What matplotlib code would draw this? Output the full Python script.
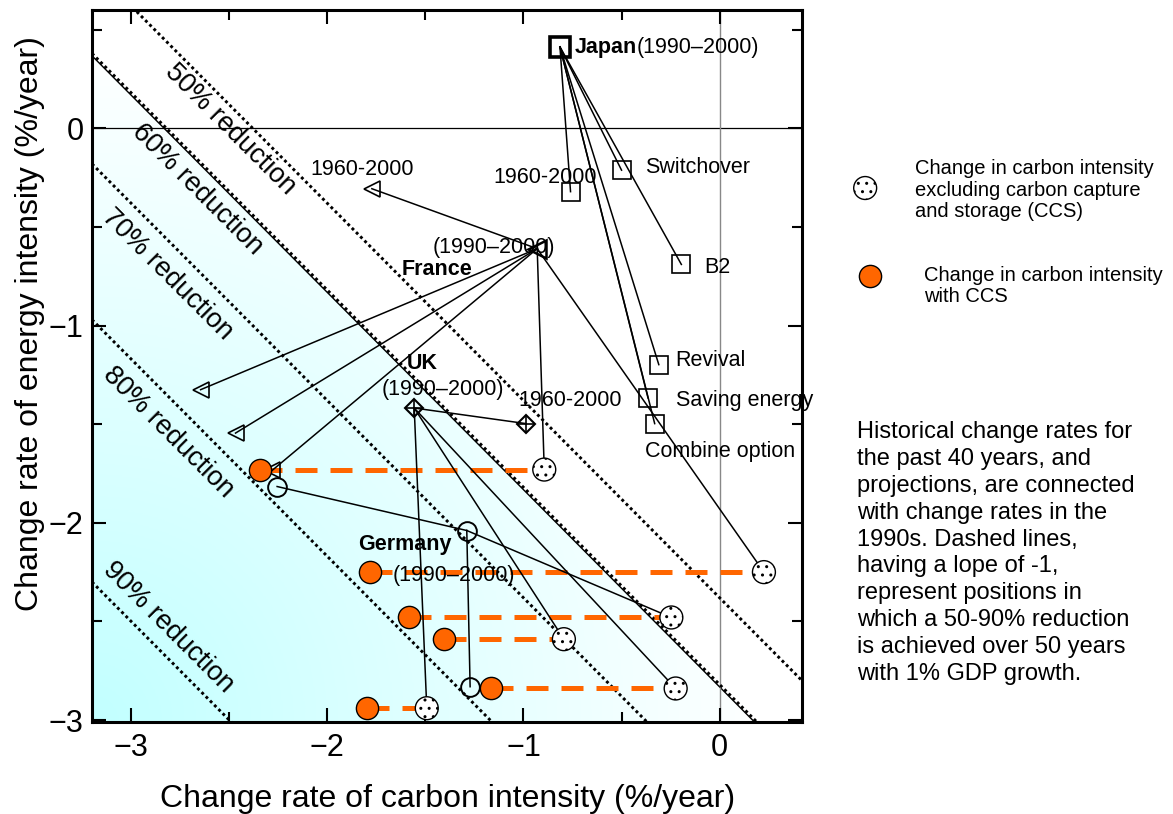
import numpy as np
import matplotlib
matplotlib.use('Agg')
import matplotlib.pyplot as plt
from matplotlib.patches import Polygon
from matplotlib.colors import LinearSegmentedColormap
from matplotlib.ticker import MultipleLocator

plt.rcParams['font.family'] = ['Liberation Sans', 'DejaVu Sans']

# reduction lines: carbon rate + energy rate = const (50 years, 1% GDP growth)
reductions = ['50% reduction', '60% reduction', '70% reduction', '80% reduction', '90% reduction']
line_sums = [-2.38, -2.82, -3.38, -4.17, -5.5]
label_x = [-2.494, -2.662, -2.814, -2.809, -2.809]
label_y = [-0.005, -0.31, -0.741, -1.543, -2.528]

# Japan 1990-2000 and its targets (squares)
japan = (-0.814, 0.413)
japan_names = ['1960-2000', 'Switchover', 'B2', 'Revival', 'Saving energy', 'Combine option']
japan_x = [-0.760, -0.500, -0.195, -0.310, -0.365, -0.331]
japan_y = [-0.321, -0.212, -0.690, -1.198, -1.367, -1.497]

# France 1990-2000 and its targets (triangles)
france = (-0.93, -0.61)
france_x = [-1.773, -2.646, -2.468, -2.281]
france_y = [-0.306, -1.325, -1.545, -1.734]

# UK
uk = (-1.557, -1.418)
uk_1960 = (-0.987, -1.497)

# Germany
germany = (-1.289, -2.039)
germany_x = [-2.256, -1.272]
germany_y = [-1.816, -2.831]

# scenario pairs: without CCS (dotted) and with CCS (orange)
noccs_x = [-0.894, 0.226, -0.246, -0.794, -0.224, -1.493]
ccs_x = [-2.341, -1.781, -1.586, -1.405, -1.167, -1.798]
pair_y = [-1.73, -2.25, -2.48, -2.59, -2.84, -2.94]
pair_owner = ['France', 'France', 'Germany', 'UK', 'UK', 'UK']

xlim = (-3.2, 0.42)
ylim = (-3.01, 0.6)
orange = '#ff6600'

fig = plt.figure(figsize=(11.73, 8.14), dpi=100)
ax = fig.add_axes([0.0784, 0.113, 0.6053, 0.8747])
ax.set_xlim(xlim)
ax.set_ylim(ylim)

# cyan gradient (radial from lower-left corner) below the 60% line
edge = line_sums[1] - 0.012
xx, yy = np.meshgrid(np.linspace(xlim[0], xlim[1], 500), np.linspace(ylim[0], ylim[1], 500))
r = np.hypot(xx - xlim[0], yy - ylim[0])
t = np.clip(r / 3.45, 0, 1)
cmap = LinearSegmentedColormap.from_list('cy', [(0.76, 1, 1), (1, 1, 1)])
im = ax.imshow(t, extent=[xlim[0], xlim[1], ylim[0], ylim[1]], origin='lower',
               cmap=cmap, vmin=0, vmax=1, aspect='auto', zorder=0)
poly = Polygon([[xlim[0], edge - xlim[0]], [xlim[0], ylim[0]],
                [edge - ylim[0], ylim[0]]], closed=True, transform=ax.transData)
im.set_clip_path(poly)
xs = np.array(xlim)
ax.plot(xs, edge - xs, color='black', lw=1.0, zorder=1)

ax.axhline(0, color='black', lw=0.9, zorder=1)
ax.axvline(0, color='#888888', lw=1.0, zorder=1)

for s, lab, lx, ly in zip(line_sums, reductions, label_x, label_y):
    ax.plot(xs, s - xs, color='black', lw=2.1, ls=(0, (1, 1.05)), zorder=2)
    ax.text(lx, ly, lab, rotation=-45, rotation_mode='anchor', ha='center', va='center',
            fontsize=19.5, zorder=3)

lk = dict(color='black', lw=1.1, zorder=4)
for x, y in zip(japan_x, japan_y):
    ax.plot([japan[0], x], [japan[1], y], **lk)
for x, y in zip(france_x, france_y):
    ax.plot([france[0], x], [france[1], y], **lk)
ax.plot([uk[0], uk_1960[0]], [uk[1], uk_1960[1]], **lk)
for x, y in zip(germany_x, germany_y):
    ax.plot([germany[0], x], [germany[1], y], **lk)
owners = {'France': france, 'UK': uk, 'Germany': germany}
for o, x, y in zip(pair_owner, noccs_x, pair_y):
    ax.plot([owners[o][0], x], [owners[o][1], y], **lk)

# dashed CCS shifts
for x0, x1, y in zip(ccs_x, noccs_x, pair_y):
    ax.plot([x0, x1], [y, y], color=orange, lw=3.6, dashes=(4.4, 2.6), zorder=3)

# markers
ax.plot(japan_x, japan_y, 's', ms=13.5, mfc='none', mec='black', mew=1.2, zorder=5)
ax.plot(*japan, 's', ms=14, mfc='none', mec='black', mew=2.6, zorder=5)
ax.plot(france_x, france_y, '<', ms=12, mfc='none', mec='black', mew=1.2, zorder=5)
ax.plot(*france, '<', ms=13, mfc='none', mec='black', mew=1.8, zorder=5)
ax.plot([uk[0], uk_1960[0]], [uk[1], uk_1960[1]], 'D', ms=9, mfc='none', mec='black', mew=1.5, zorder=5)
ax.plot([uk[0], uk_1960[0]], [uk[1], uk_1960[1]], '+', ms=12.5, mec='black', mew=1.2, zorder=5)
ax.plot(germany_x + [germany[0]], germany_y + [germany[1]], 'o', ms=13.5, mfc='none',
        mec='black', mew=1.4, zorder=5)
ax.scatter(noccs_x, pair_y, s=16.5 ** 2, facecolor='white', edgecolor='black', lw=1.0,
           hatch='..', zorder=6)
ax.scatter(ccs_x, pair_y, s=16 ** 2, facecolor=orange, edgecolor='black', lw=1.0, zorder=6)

fs = 15.5
tj = ax.text(-0.738, 0.411, 'Japan', fontsize=fs, fontweight='bold', ha='left', va='center', zorder=7)
ax.annotate('(1990–2000)', xy=(1, 0.5), xycoords=tj, fontsize=fs, ha='left', va='center')
ax.text(-0.891, -0.249, '1960-2000', fontsize=fs, ha='center', va='center', zorder=7)
name_x = [-0.382, -0.076, -0.224, -0.224, -0.382]
name_y = [-0.198, -0.706, -1.178, -1.381, -1.640]
for n, x, y in zip(japan_names[1:], name_x, name_y):
    ax.text(x, y, n, fontsize=fs, ha='left', va='center', zorder=7)
ax.text(-1.822, -0.208, '1960-2000', fontsize=fs, ha='center', va='center', zorder=7)
ax.text(-1.150, -0.604, '(1990–2000)', fontsize=fs, ha='center', va='center', zorder=7)
ax.text(-1.440, -0.716, 'France', fontsize=fs, fontweight='bold', ha='center', va='center', zorder=7)
ax.text(-1.517, -1.193, 'UK', fontsize=fs, fontweight='bold', ha='center', va='center', zorder=7)
ax.text(-1.410, -1.325, '(1990–2000)', fontsize=fs, ha='center', va='center', zorder=7)
ax.text(-0.763, -1.381, '1960-2000', fontsize=fs, ha='center', va='center', zorder=7)
ax.text(-1.603, -2.112, 'Germany', fontsize=fs, fontweight='bold', ha='center', va='center', zorder=7)
ax.text(-1.354, -2.269, '(1990–2000)', fontsize=fs, ha='center', va='center', zorder=7)

# axes styling
ax.set_xticks([-3, -2, -1, 0])
ax.set_yticks([-3, -2, -1, 0])
ax.xaxis.set_minor_locator(MultipleLocator(0.5))
ax.yaxis.set_minor_locator(MultipleLocator(0.5))
ax.tick_params(which='both', direction='in', top=True, right=True, width=1.5, labelsize=22)
ax.tick_params(which='major', length=10)
ax.tick_params(which='minor', length=7)
ax.tick_params(axis='x', pad=8)
ax.tick_params(axis='y', pad=6)
for sp in ax.spines.values():
    sp.set_linewidth(2.2)
    sp.set_zorder(8)
ax.set_xlabel('Change rate of carbon intensity (%/year)', fontsize=23)
ax.set_ylabel('Change rate of energy intensity (%/year)', fontsize=23)
ax.xaxis.set_label_coords(0.501, -0.087)
ax.yaxis.set_label_coords(-0.066, 0.56)

# legend on the right
ax.scatter([1.089], [0.75], s=16.5 ** 2, facecolor='white', edgecolor='black', lw=1.0,
           hatch='..', transform=ax.transAxes, clip_on=False)
ax.scatter([1.096], [0.626], s=16 ** 2, facecolor=orange, edgecolor='black', lw=1.0,
           transform=ax.transAxes, clip_on=False)
ax.text(1.159, 0.747, 'Change in carbon intensity\nexcluding carbon capture\nand storage (CCS)',
        transform=ax.transAxes, fontsize=14.5, ha='left', va='center', linespacing=1.16)
ax.text(1.172, 0.612, 'Change in carbon intensity\nwith CCS',
        transform=ax.transAxes, fontsize=14.5, ha='left', va='center', linespacing=1.16)
fig.text(0.7306, 0.3206,
         'Historical change rates for\nthe past 40 years, and\nprojections, are connected\n'
         'with change rates in the\n1990s. Dashed lines,\nhaving a lope of -1,\n'
         'represent positions in\nwhich a 50-90% reduction\nis achieved over 50 years\n'
         'with 1% GDP growth.', fontsize=17, ha='left', va='center', linespacing=1.29)

fig.savefig('out.png', dpi=100)
